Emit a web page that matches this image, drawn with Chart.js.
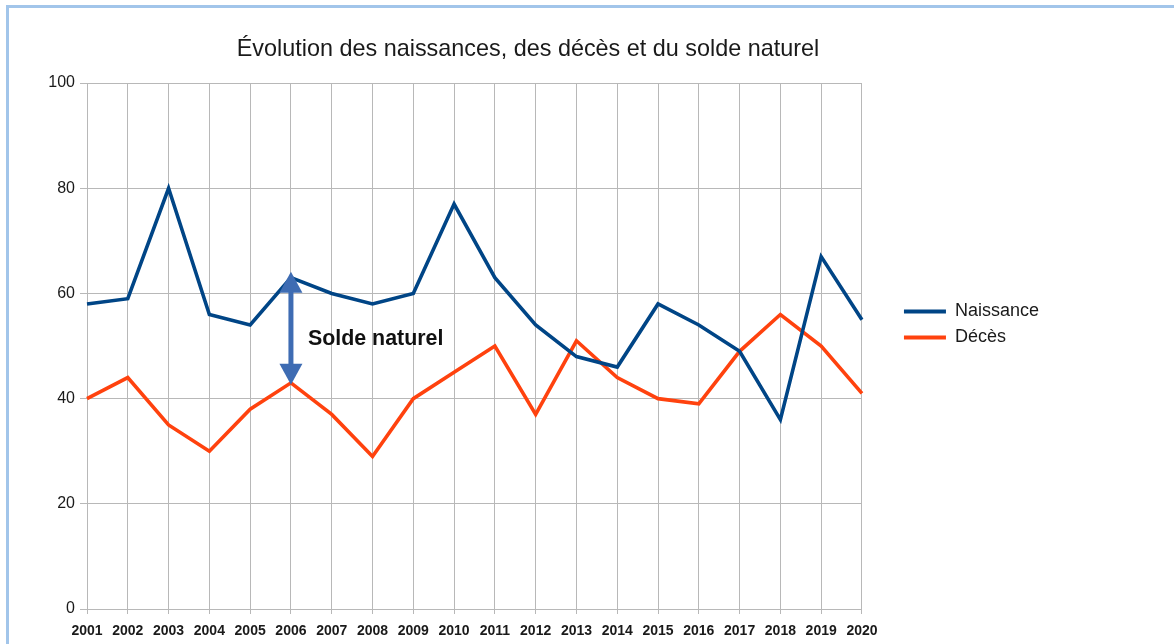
<!DOCTYPE html>
<html>
<head>
<meta charset="utf-8">
<script src="https://cdn.jsdelivr.net/npm/chart.js@4/dist/chart.umd.min.js"></script>
<style>
  html, body { margin: 0; padding: 0; background: #ffffff; }
  body { width: 1174px; height: 644px; position: relative; overflow: hidden; }
  #frame { position: absolute; left: 6px; top: 5px; width: 1200px; height: 700px;
           border-top: 3px solid #a2c5ea; border-left: 3px solid #a2c5ea; box-sizing: border-box; }
  #wrap { position: absolute; left: 0; top: 0; width: 1174px; height: 644px; }
</style>
</head>
<body>
<div id="frame"></div>
<div id="wrap"><canvas id="c" width="1174" height="644"></canvas></div>
<script>
const titleText = "Évolution des naissances, des décès et du solde naturel";
const years = ["2001","2002","2003","2004","2005","2006","2007","2008","2009","2010",
               "2011","2012","2013","2014","2015","2016","2017","2018","2019","2020"];
const naissance = [58, 59, 80, 56, 54, 63, 60, 58, 60, 77, 63, 54, 48, 46, 58, 54, 49, 36, 67, 55];
const deces     = [40, 44, 35, 30, 38, 43, 37, 29, 40, 45, 50, 37, 51, 44, 40, 39, 49, 56, 50, 41];
const seriesNames = ["Naissance", "Décès"];
const yTicks = [0, 20, 40, 60, 80, 100];
const arrowYear = "2006";
const arrowLabel = "Solde naturel";

const FONT = "'Liberation Sans', Arial, sans-serif";
const BLUE = "#004586";
const ORANGE = "#ff420e";
const GRID = "#b8b8b8";

const arrowPlugin = {
  id: 'soldeArrow',
  afterDatasetsDraw(chart) {
    const ctx = chart.ctx;
    const xs = chart.scales.x, ys = chart.scales.y;
    const i = years.indexOf(arrowYear);
    const x = xs.getPixelForValue(i);
    const yTop = ys.getPixelForValue(naissance[i]) - 6;
    const yBot = ys.getPixelForValue(deces[i]) + 2;
    const headL = 21, headW = 23, shaft = 5;
    ctx.save();
    ctx.fillStyle = "#3e6cb3";
    ctx.fillRect(x - shaft / 2, yTop + headL - 1, shaft, (yBot - yTop) - 2 * headL + 2);
    ctx.beginPath();
    ctx.moveTo(x, yTop);
    ctx.lineTo(x + headW / 2, yTop + headL);
    ctx.lineTo(x - headW / 2, yTop + headL);
    ctx.closePath();
    ctx.fill();
    ctx.beginPath();
    ctx.moveTo(x, yBot);
    ctx.lineTo(x + headW / 2, yBot - headL);
    ctx.lineTo(x - headW / 2, yBot - headL);
    ctx.closePath();
    ctx.fill();
    ctx.fillStyle = "#111111";
    ctx.font = "bold 21.4px " + FONT;
    ctx.textAlign = "left";
    ctx.textBaseline = "middle";
    ctx.fillText(arrowLabel, x + 17, (yTop + yBot) / 2 + 11);
    ctx.restore();
  }
};

new Chart(document.getElementById('c'), {
  type: 'line',
  data: {
    labels: years,
    datasets: [
      { label: seriesNames[0], data: naissance, borderColor: BLUE, backgroundColor: BLUE,
        borderWidth: 3.6, pointRadius: 0, tension: 0, yAxisID: 'y' },
      { label: seriesNames[1], data: deces, borderColor: ORANGE, backgroundColor: ORANGE,
        borderWidth: 3.6, pointRadius: 0, tension: 0, yAxisID: 'y' }
    ]
  },
  options: {
    responsive: false,
    animation: false,
    events: [],
    layout: { padding: { left: 7, right: 125, top: 0, bottom: 0 } },
    plugins: {
      title: {
        display: true, text: titleText, color: "#1a1a1a",
        font: { family: FONT, size: 23.4, weight: 'normal' },
        padding: { top: 36, bottom: 19 }
      },
      legend: {
        display: true, position: 'right', align: 'start', fullSize: false,
        title: { display: true, text: '', padding: { top: 197, bottom: 0 } },
        labels: {
          color: "#1a1a1a", font: { family: FONT, size: 18 },
          boxWidth: 42, boxHeight: 4, padding: 8,
          generateLabels(chart) {
            return chart.data.datasets.map((d, k) => ({
              text: d.label, fillStyle: d.borderColor, strokeStyle: d.borderColor,
              lineWidth: 0, hidden: false, datasetIndex: k, fontColor: "#1a1a1a"
            }));
          }
        }
      },
      tooltip: { enabled: false }
    },
    scales: {
      x: {
        offset: false,
        grid: { color: GRID, lineWidth: 1, drawTicks: true, tickLength: 5, tickColor: GRID },
        border: { color: GRID, width: 1 },
        ticks: { color: "#1a1a1a", font: { family: FONT, size: 14, weight: 'bold' },
                 padding: 9, maxRotation: 0, autoSkip: false },
        afterFit(s) { s.height = 35; }
      },
      y: {
        min: 0, max: 100,
        afterBuildTicks(s) { s.ticks = yTicks.map(v => ({ value: v })); },
        grid: { color: GRID, lineWidth: 1, drawTicks: true, tickLength: 7, tickColor: GRID },
        border: { color: GRID, width: 1 },
        ticks: { color: "#1a1a1a", font: { family: FONT, size: 16 }, padding: 5 },
        afterFit(s) { s.width = 80; }
      },
      yr: {
        position: 'right', display: true,
        grid: { display: false, drawTicks: false }, border: { display: false },
        ticks: { display: false },
        afterFit(s) { s.width = 34; }
      }
    }
  },
  plugins: [arrowPlugin]
});
</script>
</body>
</html>
